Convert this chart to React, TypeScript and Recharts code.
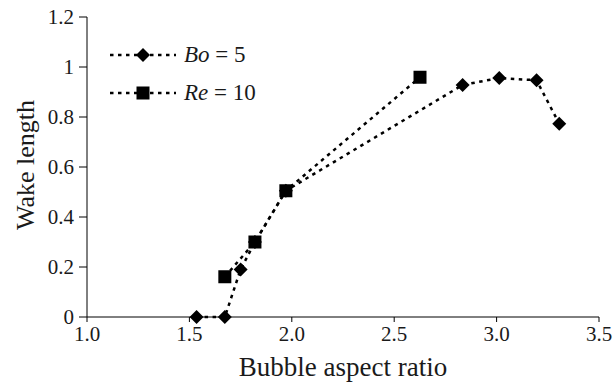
import React from 'react';
import { LineChart, Line, XAxis, YAxis } from 'recharts';

const boAspect = [1.535, 1.673, 1.75, 1.82, 1.971, 2.834, 3.013, 3.195, 3.306];
const boWake = [0, 0, 0.19, 0.30, 0.505, 0.928, 0.956, 0.947, 0.773];
const reAspect = [1.673, 1.82, 1.971, 2.626];
const reWake = [0.161, 0.30, 0.505, 0.959];
const xTicks = [1.0, 1.5, 2.0, 2.5, 3.0, 3.5];
const yTicks = [0, 0.2, 0.4, 0.6, 0.8, 1, 1.2];

const boData = boAspect.map((x, i) => ({ x, y: boWake[i] }));
const reData = reAspect.map((x, i) => ({ x, y: reWake[i] }));

const FONT = 'Liberation Serif';
const DASH = '3.5 4.5';
const TEXT_COLOR = '#1a1a1a';

const Diamond = (props: any) => {
  const { cx, cy, index } = props;
  if (cx == null || cy == null) return <g key={`d${index}`} />;
  const w = 7, h = 7;
  return (
    <path
      key={`d${index}`}
      d={`M${cx},${cy - h} L${cx + w},${cy} L${cx},${cy + h} L${cx - w},${cy} Z`}
      fill="#000"
    />
  );
};

const Square = (props: any) => {
  const { cx, cy, index } = props;
  if (cx == null || cy == null) return <g key={`s${index}`} />;
  const s = 6.5;
  return <rect key={`s${index}`} x={cx - s} y={cy - s} width={2 * s} height={2 * s} fill="#000" />;
};

const LegendBox = () => (
  <svg
    width={170}
    height={70}
    style={{ position: 'absolute', left: 108, top: 39, overflow: 'visible' }}
  >
    <line x1={2} y1={16} x2={68} y2={16} stroke="#000" strokeWidth={2.5} strokeDasharray={DASH} />
    <Diamond cx={35} cy={16} index={0} />
    <text x={76} y={23} style={{ fontFamily: FONT, fontSize: 23 }} fill={TEXT_COLOR}>
      <tspan fontStyle="italic">Bo</tspan>
      <tspan> = 5</tspan>
    </text>
    <line x1={2} y1={54} x2={68} y2={54} stroke="#000" strokeWidth={2.5} strokeDasharray={DASH} />
    <Square cx={35} cy={54} index={0} />
    <text x={76} y={61} style={{ fontFamily: FONT, fontSize: 23 }} fill={TEXT_COLOR}>
      <tspan fontStyle="italic">Re</tspan>
      <tspan> = 10</tspan>
    </text>
  </svg>
);

const YTitle = (props: any) => {
  const vb = props.viewBox || { x: 0, y: 17, width: 87, height: 300 };
  const cx = vb.x + 25;
  const cy = vb.y + vb.height / 2 - 2;
  return (
    <text
      x={cx}
      y={cy}
      transform={`rotate(-90 ${cx} ${cy})`}
      textAnchor="middle"
      dy="0.35em"
      style={{ fontFamily: FONT, fontSize: 26 }}
      fill={TEXT_COLOR}
    >
      Wake length
    </text>
  );
};

const XTitle = (props: any) => {
  const vb = props.viewBox || { x: 87, y: 317, width: 512, height: 60 };
  const cx = vb.x + vb.width / 2;
  return (
    <text
      x={cx}
      y={vb.y + 59}
      textAnchor="middle"
      style={{ fontFamily: FONT, fontSize: 27 }}
      fill={TEXT_COLOR}
    >
      Bubble aspect ratio
    </text>
  );
};

export default function App() {
  return (
    <div style={{ position: 'absolute', left: 0, top: 0, width: 614, height: 382, background: '#fff', fontFamily: FONT }}>
      <LineChart width={614} height={382} margin={{ top: 17, right: 15, left: 0, bottom: 5 }} style={{ fontFamily: FONT }}>
        <XAxis
          dataKey="x"
          type="number"
          domain={[1, 3.5]}
          ticks={xTicks}
          tickFormatter={(v: number) => v.toFixed(1)}
          allowDuplicatedCategory={false}
          height={60}
          stroke="#000"
          tickSize={5}
          tickMargin={4}
          tick={{ fontFamily: FONT, fontSize: 21, fill: TEXT_COLOR }}
          label={<XTitle />}
        />
        <YAxis
          dataKey="y"
          type="number"
          domain={[0, 1.2]}
          ticks={yTicks}
          width={87}
          stroke="#000"
          tickSize={8}
          tickMargin={5}
          tick={{ fontFamily: FONT, fontSize: 21, fill: TEXT_COLOR }}
          label={<YTitle />}
        />
        <Line
          data={boData}
          dataKey="y"
          name="Bo = 5"
          stroke="#000"
          strokeWidth={2.5}
          strokeDasharray={DASH}
          dot={Diamond}
          activeDot={false}
          isAnimationActive={false}
          type="linear"
        />
        <Line
          data={reData}
          dataKey="y"
          name="Re = 10"
          stroke="#000"
          strokeWidth={2.5}
          strokeDasharray={DASH}
          dot={Square}
          activeDot={false}
          isAnimationActive={false}
          type="linear"
        />
      </LineChart>
      <LegendBox />
    </div>
  );
}
